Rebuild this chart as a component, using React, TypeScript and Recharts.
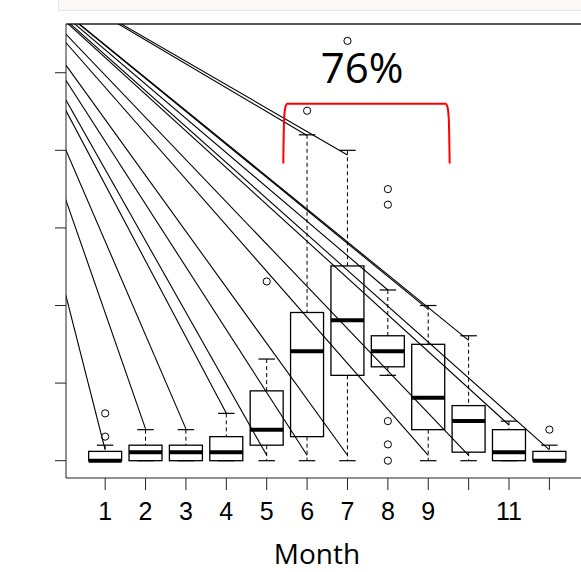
import { ComposedChart, Bar, Line, Scatter, XAxis, YAxis, ReferenceLine, ReferenceDot, Label } from "recharts";

const months = [1, 2, 3, 4, 5, 6, 7, 8, 9, 10, 11, 12];
const tickLabels = ["1", "2", "3", "4", "5", "6", "7", "8", "9", "", "11", ""];
const yTicks = [0, 1, 2, 3, 4, 5];

// box stats per month
const whiskerLow = [0, 0, 0, 0, 0, 0, 0, 1.1, 0, 0, 0, 0];
const q1 = [0, 0, 0, 0, 0.2, 0.31, 1.1, 1.21, 0.4, 0.11, 0, 0];
const medians = [0, 0.11, 0.11, 0.11, 0.4, 1.41, 1.81, 1.41, 0.81, 0.51, 0.11, 0];
const q3 = [0.12, 0.2, 0.2, 0.31, 0.9, 1.91, 2.51, 1.61, 1.5, 0.71, 0.4, 0.12];
const whiskerHigh = [0.2, 0.4, 0.4, 0.61, 1.31, 4.2, 4.0, 2.2, 2.0, 1.61, 0.51, 0.2];

const outlierMonths = [1, 1, 5, 6, 7, 8, 8, 8, 8, 8, 12];
const outlierValues = [0.61, 0.31, 2.31, 4.51, 5.41, 3.5, 3.3, 0.51, 0.21, 0, 0.4];

// leader lines all come from one point up-left of the plot
const leaderStart = { month: -2.22, value: 6.72 };
const leaderMonths = [1, 2, 3, 4, 5, 6, 7, 9, 10, 6, 7, 8, 9, 10, 11, 12];
const leaderValues = [0.14, 0.41, 0.41, 0.61, 0.07, 0.07, 0.07, 0.07, 0.07, 4.19, 3.94, 2.2, 1.95, 1.55, 0.46, 0.14];

// red bracket over months 6-9
const bracketMonths = [5.41, 5.43, 5.46, 5.51, 9.43, 9.48, 9.51, 9.53];
const bracketValues = [3.83, 4.39, 4.55, 4.6, 4.6, 4.55, 4.39, 3.83];
const bracketText = "76%";

const X_DOMAIN: [number, number] = [0.03, 13.03];
const Y_DOMAIN: [number, number] = [-0.223, 5.628];
const BOX_W = 33;

const boxRows = months.map((m, i) => ({
  month: m,
  range: [whiskerLow[i], whiskerHigh[i]],
  low: whiskerLow[i],
  q1: q1[i],
  median: medians[i],
  q3: q3[i],
  high: whiskerHigh[i],
}));
const outlierRows = outlierMonths.map((m, i) => ({ month: m, value: outlierValues[i] }));
const bracketRows = bracketMonths.map((m, i) => ({ month: m, value: bracketValues[i] }));

// bar gives the whisker range in pixels, the rest is placed on the same scale
const BoxShape = (props: any) => {
  const { x, y, width, height, payload } = props;
  const { low, high } = payload;
  const k = height / (high - low);
  const py = (v: number) => y + (high - v) * k;
  const cx = x + width / 2;
  const left = cx - BOX_W / 2;
  const cap = BOX_W / 4;
  return (
    <g>
      <line x1={cx} x2={cx} y1={py(high)} y2={py(payload.q3)} stroke="#000" strokeDasharray="4 3" />
      <line x1={cx} x2={cx} y1={py(payload.q1)} y2={py(low)} stroke="#000" strokeDasharray="4 3" />
      <line x1={cx - cap} x2={cx + cap} y1={py(high)} y2={py(high)} stroke="#000" strokeWidth={1.2} />
      <line x1={cx - cap} x2={cx + cap} y1={py(low)} y2={py(low)} stroke="#000" strokeWidth={1.2} />
      <rect x={left} y={py(payload.q3)} width={BOX_W} height={py(payload.q1) - py(payload.q3)} fill="none" stroke="#000" strokeWidth={1.3} />
      <line x1={left} x2={left + BOX_W} y1={py(payload.median)} y2={py(payload.median)} stroke="#000" strokeWidth={4} />
    </g>
  );
};

const OutlierShape = (props: any) => (
  <circle cx={props.cx} cy={props.cy} r={3.6} fill="none" stroke="#000" strokeWidth={1} />
);

const NoLabel = () => <g />;

export default function App() {
  return (
    <div style={{ position: "absolute", left: 0, top: 0, width: 581, height: 572, overflow: "hidden", background: "#fff" }}>
      <div
        style={{
          position: "absolute",
          left: 58,
          top: 0,
          width: 523,
          height: 10,
          background: "#faf9f6",
          borderLeft: "1px solid #e8e6dc",
          borderBottom: "1px solid #e8e6dc",
        }}
      />
      <ComposedChart width={591} height={572} data={boxRows} margin={{ top: 24, right: 0, bottom: 0, left: 0 }}>
        <XAxis
          dataKey="month"
          type="number"
          domain={X_DOMAIN}
          allowDataOverflow
          ticks={months}
          interval={0}
          tickFormatter={(v: number) => tickLabels[months.indexOf(v)] ?? ""}
          height={94}
          tickSize={12}
          tickMargin={12}
          stroke="#222"
          tick={{ fill: "#000", fontSize: 25, fontFamily: "Liberation Sans" }}
        >
          <Label
            content={() => (
              <text x={317} y={564} textAnchor="middle" fontFamily="Open Sans" fontSize={28} fill="#000">
                Month
              </text>
            )}
          />
        </XAxis>
        <YAxis
          type="number"
          domain={Y_DOMAIN}
          allowDataOverflow
          ticks={yTicks}
          width={66}
          tickSize={11}
          tick={NoLabel}
          stroke="#222"
        />
        <ReferenceLine y={Y_DOMAIN[1]} stroke="#222" strokeWidth={1.5} />
        <Bar dataKey="range" barSize={BOX_W} shape={BoxShape} isAnimationActive={false} />
        {leaderMonths.map((m, i) => (
          <ReferenceLine
            key={i}
            segment={[
              { x: leaderStart.month, y: leaderStart.value },
              { x: m, y: leaderValues[i] },
            ]}
            stroke="#000"
            strokeWidth={1.1}
            ifOverflow="hidden"
          />
        ))}
        <Scatter data={outlierRows} dataKey="value" shape={OutlierShape} isAnimationActive={false} />
        <Line
          data={bracketRows}
          dataKey="value"
          type="monotone"
          stroke="#ff0000"
          strokeWidth={2}
          dot={false}
          isAnimationActive={false}
        />
        <ReferenceDot
          x={7.36}
          y={5.056}
          r={0}
          fill="none"
          stroke="none"
          ifOverflow="visible"
          label={{ value: bracketText, position: "center", fontSize: 42, fontFamily: "Open Sans", fill: "#000" }}
        />
      </ComposedChart>
    </div>
  );
}
